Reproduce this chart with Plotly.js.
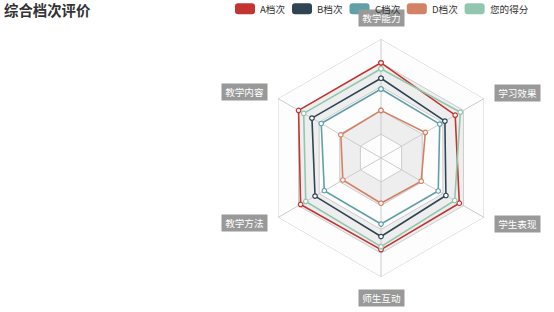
<!DOCTYPE html>
<html>
<head>
<meta charset="utf-8">
<script src="https://cdn.plot.ly/plotly-3.0.1.min.js"></script>
<style>html,body{margin:0;padding:0;background:#fff;}#chart{width:554px;height:312px;}</style>
</head>
<body>
<div id="chart"></div>
<script>
// ---- data ----
const indicators = ['教学能力', '教学内容', '教学方法', '师生互动', '学生表现', '学习效果'];
const seriesNames = ['A档次', 'B档次', 'C档次', 'D档次', '您的得分'];
const gradeA = [80, 80, 78, 77, 76, 72];
const gradeB = [67, 67, 64, 66, 63, 62];
const gradeC = [58, 58, 55, 55.5, 55.5, 57];
const gradeD = [40, 39, 37, 38, 39, 43];
const yourScore = [75, 75, 73, 74.5, 71.5, 77];
const maxValue = 100;
const splitLevels = [100, 80, 60, 40, 20];

// ---- style ----
const W = 554, H = 312;
const colors = ['#c23531', '#2f4554', '#61a0a8', '#d48265', '#91c7ae'];
const cx = 381, cy = 158, R = 119;
const FONT = '"Noto Sans CJK SC", "Noto Sans", sans-serif';

const closed = arr => arr.concat([arr[0]]);
const thetaClosed = closed(indicators);

const traces = [];
// split area bands (opaque equivalents of ECharts rgba bands on white)
splitLevels.forEach((lv) => {
  const bandIndex = lv / 20 - 1; // 0 = innermost
  traces.push({
    type: 'scatterpolar', mode: 'lines',
    theta: thetaClosed, r: thetaClosed.map(() => lv),
    fill: 'toself',
    fillcolor: bandIndex % 2 === 0 ? '#fdfdfd' : '#eeeeee',
    line: {color: '#cccccc', width: 1},
    hoverinfo: 'skip', showlegend: false
  });
});
// spokes
const spokeTheta = [], spokeR = [];
indicators.forEach(c => { spokeTheta.push(c, c, c); spokeR.push(0, maxValue, null); });
traces.push({
  type: 'scatterpolar', mode: 'lines', theta: spokeTheta, r: spokeR,
  line: {color: '#cccccc', width: 1}, connectgaps: false,
  hoverinfo: 'skip', showlegend: false
});
// series
[gradeA, gradeB, gradeC, gradeD, yourScore].forEach((vals, i) => {
  traces.push({
    type: 'scatterpolar', mode: 'lines+markers', name: seriesNames[i],
    theta: thetaClosed, r: closed(vals),
    line: {color: colors[i], width: 1.6},
    marker: {size: 4.5, color: '#ffffff', line: {color: colors[i], width: 1.2}},
    showlegend: false
  });
});

const annotations = [];
const shapes = [];
// axis name labels
const gap = 12;
indicators.forEach((name, k) => {
  const ang = Math.PI / 2 + k * 2 * Math.PI / indicators.length;
  const dx = Math.cos(ang), dy = Math.sin(ang);
  const px = cx + (R + gap) * dx, py = cy - (R + gap) * dy;
  annotations.push({
    xref: 'paper', yref: 'paper', x: px / W, y: 1 - py / H,
    xanchor: Math.abs(dx) < 0.01 ? 'center' : (dx < 0 ? 'right' : 'left'),
    yanchor: Math.abs(dx) < 0.01 ? (dy > 0 ? 'bottom' : 'top') : 'middle',
    text: '\u00a0' + name + '\u00a0', showarrow: false,
    bgcolor: '#999999', borderpad: 1,
    font: {family: FONT, size: 9.6, color: '#ffffff'}
  });
});

// legend (ECharts style rounded rect icons)
const ctx = document.createElement('canvas').getContext('2d');
ctx.font = '9.6px ' + FONT;
let lx = 235;
const iconW = 20, iconH = 11, iconTop = 3.3, rr = 3;
seriesNames.forEach((name, i) => {
  const x0 = lx, x1 = lx + iconW, y0 = iconTop, y1 = iconTop + iconH;
  const X = v => (v / W).toFixed(5), Y = v => (1 - v / H).toFixed(5);
  const path = `M${X(x0 + rr)},${Y(y0)} L${X(x1 - rr)},${Y(y0)} Q${X(x1)},${Y(y0)} ${X(x1)},${Y(y0 + rr)} ` +
    `L${X(x1)},${Y(y1 - rr)} Q${X(x1)},${Y(y1)} ${X(x1 - rr)},${Y(y1)} L${X(x0 + rr)},${Y(y1)} ` +
    `Q${X(x0)},${Y(y1)} ${X(x0)},${Y(y1 - rr)} L${X(x0)},${Y(y0 + rr)} Q${X(x0)},${Y(y0)} ${X(x0 + rr)},${Y(y0)} Z`;
  shapes.push({type: 'path', xref: 'paper', yref: 'paper', path: path,
    fillcolor: colors[i], line: {width: 0}});
  const tw = ctx.measureText(name).width;
  annotations.push({
    xref: 'paper', yref: 'paper', x: (x1 + 4) / W, y: 1 - (iconTop + iconH / 2) / H,
    xanchor: 'left', yanchor: 'middle', text: name, showarrow: false,
    font: {family: FONT, size: 9.6, color: '#333333'}, borderpad: 0
  });
  lx = x1 + 4 + tw + 8;
});

const layout = {
  width: W, height: H,
  margin: {l: 0, r: 0, t: 0, b: 0},
  paper_bgcolor: '#ffffff',
  showlegend: false,
  title: {
    text: '<b>综合档次评价</b>', xref: 'container', yref: 'container',
    x: 4 / W, xanchor: 'left', y: 1 - 11 / H, yanchor: 'middle',
    font: {family: FONT, size: 14.4, color: '#333333'}
  },
  polar: {
    domain: {x: [(cx - R) / W, (cx + R) / W], y: [1 - (cy + R) / H, 1 - (cy - R) / H]},
    gridshape: 'linear',
    bgcolor: 'rgba(0,0,0,0)',
    radialaxis: {range: [0, maxValue], visible: false, showgrid: false, showline: false, showticklabels: false, ticks: ''},
    angularaxis: {type: 'category', categoryarray: indicators, rotation: 90, direction: 'counterclockwise',
      showgrid: false, showline: false, showticklabels: false, ticks: ''}
  },
  annotations: annotations,
  shapes: shapes
};

Plotly.newPlot('chart', traces, layout, {displayModeBar: false, staticPlot: true});
</script>
</body>
</html>
